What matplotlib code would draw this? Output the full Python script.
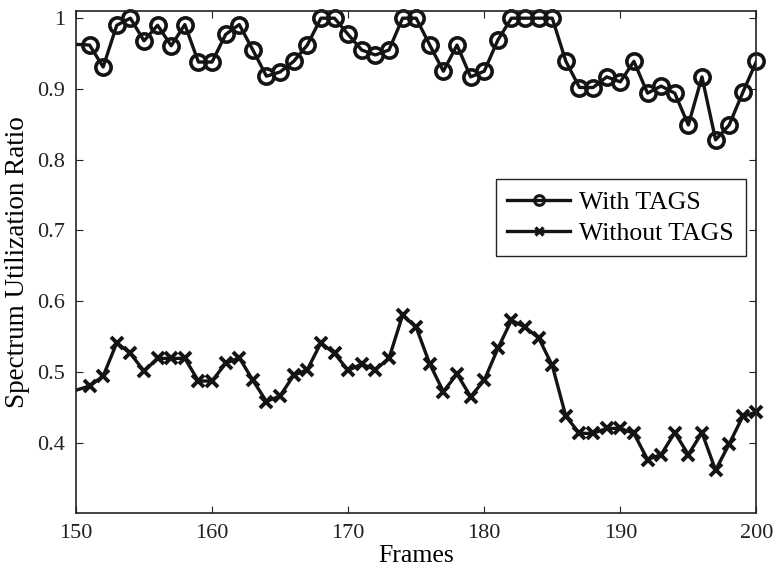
import matplotlib
matplotlib.use("Agg")
import matplotlib.pyplot as plt
import numpy as np

frames = list(range(150, 201))
with_tags = [0.963, 0.962, 0.931, 0.990, 1.0, 0.968, 0.990, 0.961, 0.991, 0.938,
             0.938, 0.977, 0.991, 0.955, 0.918, 0.924, 0.939, 0.962, 1.0, 1.0,
             0.977, 0.955, 0.948, 0.955, 1.0, 1.0, 0.962, 0.925, 0.962, 0.917,
             0.925, 0.969, 1.0, 1.0, 1.0, 1.0, 0.939, 0.902, 0.902, 0.917,
             0.910, 0.939, 0.894, 0.904, 0.894, 0.849, 0.917, 0.828, 0.849, 0.895,
             0.939]
without_tags = [0.474, 0.480, 0.494, 0.541, 0.526, 0.501, 0.519, 0.519, 0.519, 0.487,
                0.487, 0.512, 0.520, 0.488, 0.458, 0.466, 0.495, 0.503, 0.541, 0.526,
                0.502, 0.511, 0.503, 0.519, 0.580, 0.563, 0.511, 0.472, 0.497, 0.465,
                0.488, 0.533, 0.573, 0.563, 0.548, 0.509, 0.437, 0.413, 0.413, 0.420,
                0.420, 0.413, 0.376, 0.383, 0.414, 0.383, 0.414, 0.361, 0.398, 0.437,
                0.443]
series_labels = ["With TAGS", "Without TAGS"]
xticks = [150, 160, 170, 180, 190, 200]
yticks = [0.4, 0.5, 0.6, 0.7, 0.8, 0.9, 1.0]
yticklabels = ["0.4", "0.5", "0.6", "0.7", "0.8", "0.9", "1"]

plt.rcParams['font.family'] = ['Liberation Serif', 'DejaVu Serif']
plt.rcParams['font.size'] = 16

fig = plt.figure(figsize=(7.75, 5.7), dpi=100)
ax = fig.add_axes([0.098, 0.0995, 0.878, 0.881])

c = '#141414'
marks = list(range(1, len(frames)))
ax.plot(frames, with_tags, '-', color=c, lw=2.4)
ax.plot(frames, with_tags, 'o', color=c, ms=11, mfc='none', mew=2.6,
        markevery=marks, clip_on=False)
ax.plot(frames, without_tags, '-', color=c, lw=2.4)
ax.plot(frames, without_tags, 'x', color=c, ms=9, mew=2.8,
        markevery=marks, clip_on=False)

# legend proxies
h1, = ax.plot([], [], '-o', color=c, lw=2.4, ms=7, mfc='none', mew=2.2,
              label=series_labels[0])
h2, = ax.plot([], [], '-x', color=c, lw=2.4, ms=6, mew=2.4,
              label=series_labels[1])

ax.set_xlim(150, 200)
ax.set_ylim(0.3, 1.01)
ax.set_xticks(xticks)
ax.set_yticks(yticks)
ax.set_yticklabels(yticklabels)
ax.tick_params(direction='in', top=True, right=True, length=5, width=0.8,
               labelsize=16, colors='#222222', pad=8)
for s in ax.spines.values():
    s.set_linewidth(1.2)
    s.set_color('#222222')

ax.set_xlabel("Frames", fontsize=18.5, labelpad=1)
ax.set_ylabel("Spectrum Utilization Ratio", fontsize=19.5, labelpad=5)

leg = ax.legend(handles=[h1, h2], loc='upper right', bbox_to_anchor=(0.984, 0.665),
                borderaxespad=0, fancybox=False, framealpha=1, edgecolor='#222222',
                fontsize=18.5, handlelength=2.45, borderpad=0.45, labelspacing=0.3,
                handletextpad=0.35)
leg.get_frame().set_linewidth(1.0)

fig.savefig("out.png", dpi=100)
